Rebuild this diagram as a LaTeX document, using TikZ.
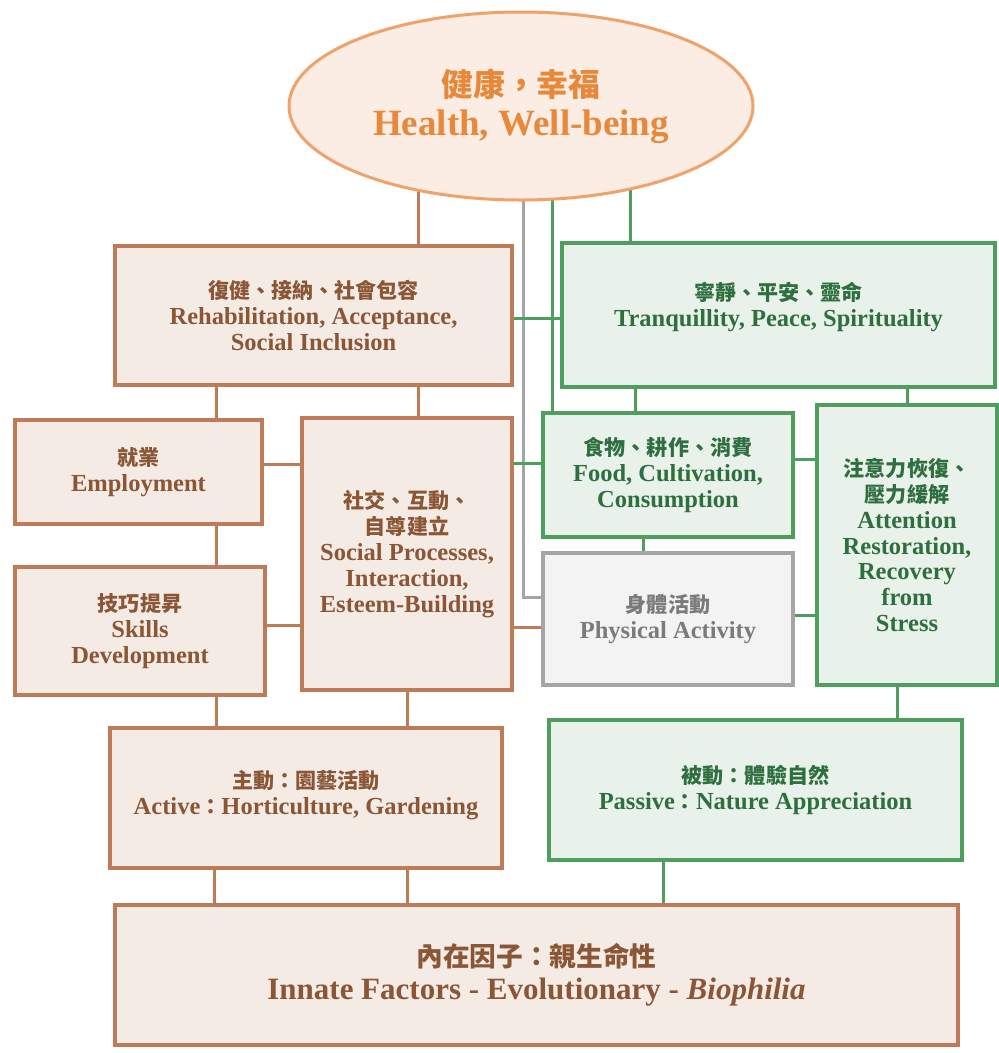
\documentclass[tikz,border=0pt]{standalone}
\usepackage{fontspec}
\setmainfont{Liberation Serif}
\newfontfamily\cjk{Noto Sans CJK TC}[Scale=0.86]
\usetikzlibrary{shapes.geometric,backgrounds}
\definecolor{brline}{HTML}{BD7C57}
\definecolor{brtext}{HTML}{8A5636}
\definecolor{brfill}{HTML}{F5EBE5}
\definecolor{grline}{HTML}{4E9E5E}
\definecolor{grtext}{HTML}{2F6E3F}
\definecolor{grfill}{HTML}{E8F2EA}
\definecolor{gyline}{HTML}{A5A5A5}
\definecolor{gytext}{HTML}{7B7B7B}
\definecolor{gyfill}{HTML}{F3F3F3}
\definecolor{orline}{HTML}{EFA36A}
\definecolor{ortext}{HTML}{E8883A}
\definecolor{orfill}{HTML}{FBEDE3}
\tikzset{
  box/.style={rectangle, inner sep=0pt, line width=3.5pt, align=center,
    font=\bfseries\fontsize{24.5}{25.8}\selectfont},
  brbox/.style={box, draw=brline, fill=brfill, text=brtext},
  grbox/.style={box, draw=grline, fill=grfill, text=grtext},
  gybox/.style={box, draw=gyline, fill=gyfill, text=gytext},
  brlink/.style={draw=brline, line width=3pt},
  grlink/.style={draw=grline, line width=3pt},
  gylink/.style={draw=gyline, line width=3pt},
}
\begin{document}
\begin{tikzpicture}[x=1pt,y=-1pt]
\useasboundingbox (0,0) rectangle (999,1053);
% ellipse
\node[ellipse, draw=orline, fill=orfill, line width=3pt, inner sep=0pt,
  minimum width=464pt, minimum height=188pt, text=ortext, align=center,
  font=\bfseries\fontsize{37}{39}\selectfont] (health) at (521,106)
  {{\cjk 健康，幸福}\\Health, Well-being};
% boxes
\node[brbox, minimum width=397pt, minimum height=139pt] (rehab) at (313.5,315.5)
  {{\cjk 復健、接納、社會包容}\\Rehabilitation, Acceptance,\\Social Inclusion};
\node[grbox, minimum width=433pt, minimum height=144pt] (tranq) at (778.5,315)
  {{\cjk 寧靜、平安、靈命}\\Tranquillity, Peace, Spirituality\\[-4pt]};
\node[brbox, minimum width=247pt, minimum height=104pt] (emp) at (138.5,472)
  {{\cjk 就業}\\Employment};
\node[brbox, minimum width=250pt, minimum height=128pt] (skills) at (140,631)
  {{\cjk 技巧提昇}\\Skills\\Development};
\node[brbox, minimum width=210pt, minimum height=272pt] (social) at (407,554)
  {{\cjk 社交、互動、}\\{\cjk 自尊建立}\\Social Processes,\\Interaction,\\Esteem-Building};
\node[grbox, minimum width=250pt, minimum height=124pt] (food) at (668,475)
  {{\cjk 食物、耕作、消費}\\Food, Cultivation,\\Consumption};
\node[gybox, minimum width=250pt, minimum height=132pt] (phys) at (668,619)
  {{\cjk 身體活動}\\Physical Activity};
\node[grbox, minimum width=180pt, minimum height=280pt] (attn) at (907,545)
  {{\cjk 注意力恢復、}\\{\cjk 壓力緩解}\\Attention\\Restoration,\\Recovery\\from\\Stress};
\node[brbox, minimum width=392pt, minimum height=140pt] (active) at (306,798)
  {{\cjk 主動：園藝活動}\\Active{\cjk ：}Horticulture, Gardening\\[-14pt]};
\node[grbox, minimum width=413pt, minimum height=140pt] (passive) at (755.5,790)
  {{\cjk 被動：體驗自然}\\Passive{\cjk ：}Nature Appreciation};
\node[brbox, minimum width=843pt, minimum height=140pt,
  font=\bfseries\fontsize{31}{33}\selectfont] (innate) at (536.5,975)
  {{\cjk 內在因子：親生命性}\\Innate Factors - Evolutionary - \textit{Biophilia}};
% connectors
\begin{pgfonlayer}{background}
\fill[white] (0,0) rectangle (999,1053);
\draw[brlink] (418,0 |- health.center) -- (418,0 |- rehab.center);
\draw[gylink] (523,0 |- health.center) -- (523,597) -- (phys.west |- 0,597);
\draw[grlink] (552,0 |- health.center) -- (552,0 |- food.center);
\draw[grlink] (630,0 |- health.center) -- (630,0 |- tranq.center);
\draw[grlink] (rehab.east |- 0,318) -- (tranq.west |- 0,318);
\draw[brlink] (216,0 |- rehab.center) -- (216,0 |- emp.center);
\draw[brlink] (418,0 |- rehab.center) -- (418,0 |- social.center);
\draw[brlink] (216,0 |- emp.center) -- (216,0 |- skills.center);
\draw[brlink] (emp.east |- 0,464) -- (social.west |- 0,464);
\draw[brlink] (skills.east |- 0,625) -- (social.west |- 0,625);
\draw[brlink] (216,0 |- skills.center) -- (216,0 |- active.center);
\draw[brlink] (407,0 |- social.center) -- (407,0 |- active.center);
\draw[grlink] (social.east |- 0,463) -- (food.west |- 0,463);
\draw[brlink] (social.east |- 0,627) -- (phys.west |- 0,627);
\draw[grlink] (635,0 |- tranq.center) -- (635,0 |- food.center);
\draw[grlink] (907,0 |- tranq.center) -- (907,0 |- attn.center);
\draw[grlink] (643,0 |- food.center) -- (643,0 |- phys.center);
\draw[grlink] (food.east |- 0,459) -- (attn.west |- 0,459);
\draw[grlink] (phys.east |- 0,615) -- (attn.west |- 0,615);
\draw[grlink] (897,0 |- attn.center) -- (897,0 |- passive.center);
\draw[brlink] (214,0 |- active.center) -- (214,0 |- innate.center);
\draw[brlink] (407,0 |- active.center) -- (407,0 |- innate.center);
\draw[grlink] (663,0 |- passive.center) -- (663,0 |- innate.center);
\end{pgfonlayer}
\end{tikzpicture}
\end{document}
